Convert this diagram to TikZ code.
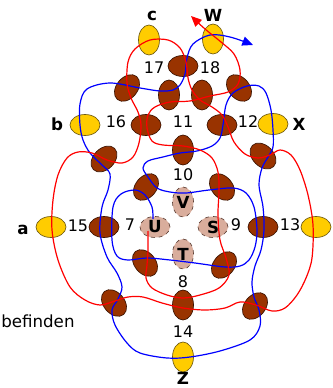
\documentclass[tikz,border=0pt]{standalone}
\usepackage{fontspec}
\setmainfont{DejaVu Sans}
\usepackage{tikz}
\usetikzlibrary{shapes,arrows.meta,positioning}
\definecolor{kreuz}{HTML}{993300}
\definecolor{kreuzrand}{HTML}{3A1200}
\definecolor{gelb}{HTML}{FFCC00}
\definecolor{gelbrand}{HTML}{6E5A12}
\definecolor{hell}{HTML}{D9AD9C}
\definecolor{hellrand}{HTML}{5E4036}
\tikzset{
      kreuzung/.style = {ellipse, draw=kreuzrand, fill=kreuz, line width=0.5pt,
                         inner sep=0pt, minimum width=22.5pt, minimum height=15.75pt},
      punkt/.style    = {ellipse, draw=gelbrand, fill=gelb, line width=0.5pt,
                         inner sep=0pt, minimum width=22.5pt, minimum height=15.75pt},
      leer/.style     = {ellipse, draw=hellrand, fill=hell, dashed, line width=0.5pt,
                         inner sep=0pt, minimum width=22.5pt, minimum height=15.75pt,
                         font=\fontsize{12.5}{14}\selectfont\bfseries},
      hoch/.style     = {minimum width=15.75pt, minimum height=22.5pt},
      nummer/.style   = {font=\fontsize{12}{14}\selectfont},
      buchstabe/.style= {font=\fontsize{12.5}{14}\selectfont\bfseries},
      rotweg/.style   = {red, line width=0.9pt},
      blauweg/.style  = {blue, line width=0.9pt},
      pfeil/.style    = {-{Triangle[length=8pt, width=7pt]}},
    }

\begin{document}
\begin{tikzpicture}[x=0.75pt, y=-0.75pt]
        \useasboundingbox (0,0) rectangle (332,388);

        % Kreuzungen
        \node[kreuzung] (k1) at (183,66) {};
        \node[kreuzung, rotate=50] (k2) at (127,88) {};
        \node[kreuzung, hoch] (k3) at (169,95) {};
        \node[kreuzung, hoch] (k4) at (202,95) {};
        \node[kreuzung, rotate=-50] (k5) at (239,88) {};
        \node[kreuzung] (k6) at (146,125) {};
        \node[kreuzung] (k7) at (222,125) {};
        \node[kreuzung, hoch] (k8) at (183,150) {};
        \node[kreuzung, rotate=45] (k9) at (104,159) {};
        \node[kreuzung, rotate=-45] (k10) at (263,156) {};
        \node[kreuzung, rotate=50] (k11) at (146,187) {};
        \node[kreuzung, rotate=-50] (k12) at (222,187) {};
        \node[kreuzung] (k13) at (104,227) {};
        \node[kreuzung] (k14) at (263,227) {};
        \node[kreuzung, rotate=-50] (k15) at (145,263) {};
        \node[kreuzung, rotate=50] (k16) at (224,265) {};
        \node[kreuzung, rotate=-50] (k17) at (114,303) {};
        \node[kreuzung, hoch] (k18) at (183,305) {};
        \node[kreuzung, rotate=50] (k19) at (255,306) {};

        % Punkte
        \node[punkt, hoch] (pc) at (149,40) {};
        \node[punkt, hoch] (pW) at (213,39) {};
        \node[punkt] (pb) at (85,125) {};
        \node[punkt] (pX) at (273,124) {};
        \node[punkt] (pa) at (51,227) {};
        \node[punkt] (pr) at (316,227) {};
        \node[punkt, hoch] (pZ) at (183,357) {};

        % leere Felder
        \node[leer, hoch] (V) at (183,202) {V};
        \node[leer] (U) at (155,227) {U};
        \node[leer] (S) at (213,227) {S};
        \node[leer, hoch] (T) at (183,254) {T};

        % Nummern
        \node[nummer] (n17) at (154,68) {17};
        \node[nummer] (n18) at (210,68) {18};
        \node[nummer] (n16) at (116,122) {16};
        \node[nummer] (n11) at (183,122) {11};
        \node[nummer] (n12) at (248,122) {12};
        \node[nummer] (n10) at (183,175) {10};
        \node[nummer] (n15) at (78,226) {15};
        \node[nummer] (n7) at (130,225) {7};
        \node[nummer] (n9) at (236,225) {9};
        \node[nummer] (n13) at (290,225) {13};
        \node[nummer] (n8) at (183,282) {8};
        \node[nummer] (n14) at (183,332) {14};

        \node[buchstabe] (lc) at (152,16) {c};
        \node[buchstabe] (lW) at (213,15) {W};
        \node[buchstabe] (lb) at (57,124) {b};
        \node[buchstabe] (lX) at (299,124) {X};
        \node[buchstabe] (la) at (23,230) {a};
        \node[buchstabe] (lZ) at (183,378) {Z};

        \node[font=\fontsize{12.5}{15}\selectfont, anchor=base west, inner sep=0pt] (txt) at (1,327) {befinden};

        \coordinate (bAnfang) at (153,219);
        \coordinate (bEnde) at (253,45);
        \coordinate (rAnfang) at (148,231);
        \coordinate (rEnde) at (191,16);

        % blauer Weg
        \draw[blauweg, pfeil] plot[smooth, tension=0.55] coordinates {
            (bAnfang) (152,207) (145,195) (135,190) (121,194) (113,207) (112,240)
            (117,256) (128,260) (147,258) (170,260) (195,263) (225,267) (240,266)
            (249,260) (255,247) (257,230) (254,207) (246,193) (233,188) (209,190)
            (186,193) (170,192) (157,188) (148,177) (143,168) (148,161) (163,157)
            (180,153) (197,151) (212,146) (220,138) (223,125) (226,105) (233,93)
            (247,86) (259,86) (266,93) (271,110) (273,130) (273,147) (268,157)
            (262,168) (259,185) (263,207) (264,230) (261,250) (255,266) (252,282)
            (254,297) (259,310) (260,326) (250,340) (220,351) (190,357) (167,358)
            (140,353) (127,343) (115,325) (112,310) (118,299) (122,287) (117,273)
            (107,257) (100,233) (102,207) (108,190) (110,174) (102,165) (90,153)
            (83,140) (80,125) (80,104) (87,89) (110,83) (140,88) (160,91)
            (173,90) (180,85) (185,74) (187,58) (193,44) (210,35) (230,37) (bEnde)};

        % roter Weg
        \draw[rotweg, pfeil] plot[smooth, tension=0.55] coordinates {
            (rAnfang) (148,250) (147,265) (146,278) (152,288) (167,295) (183,298)
            (200,295) (219,288) (229,275) (226,258) (220,240) (218,215) (219,190)
            (218,172) (212,158) (200,150) (183,146) (163,145) (152,141) (147,128)
            (148,115) (155,107) (170,102) (190,101) (210,96) (228,92) (238,84)
            (240,70) (234,54) (221,42) (205,29) (rEnde)};

        % rote Schleife
        \draw[rotweg] plot[smooth cycle, tension=0.55] coordinates {
            (150,40) (168,40) (180,48) (186,62) (188,78) (192,90) (200,100)
            (212,107) (222,115) (228,127) (234,142) (245,154) (258,158) (270,155)
            (280,150) (291,155) (300,170) (308,195) (313,225) (312,258) (306,278)
            (297,295) (285,308) (272,311) (256,305) (240,302) (225,308) (205,310)
            (183,308) (162,303) (143,297) (128,297) (115,301) (100,305) (85,300)
            (70,287) (58,260) (52,230) (53,200) (58,175) (67,158) (78,152)
            (92,153) (107,160) (122,163) (133,157) (139,143) (141,125) (138,112)
            (131,98) (127,83) (128,62) (135,49)};
\end{tikzpicture}
\end{document}
